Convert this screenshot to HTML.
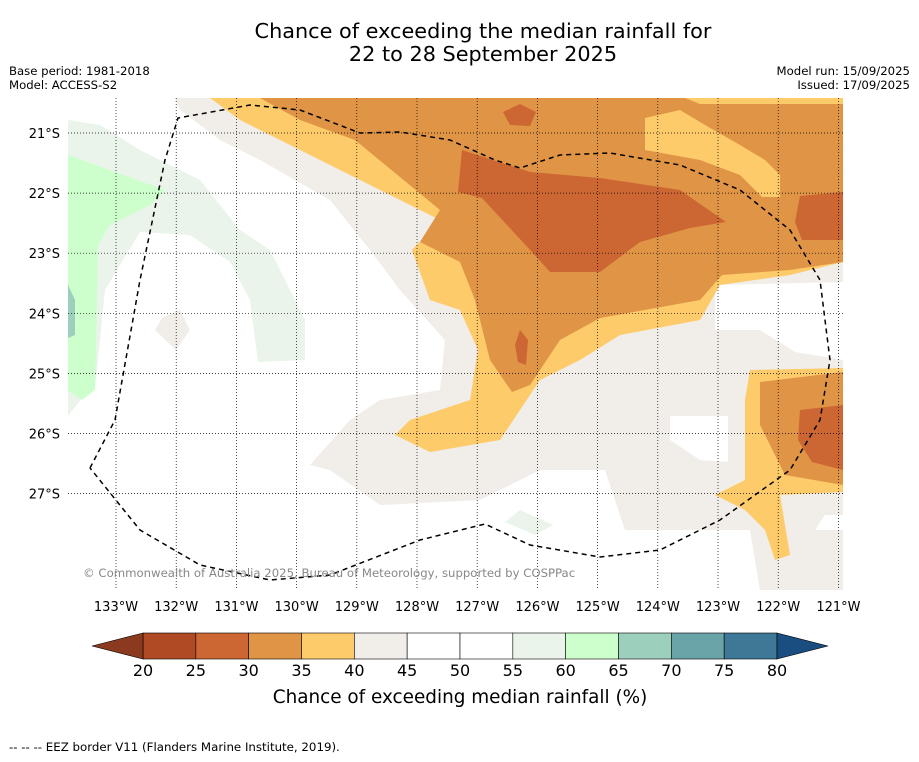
<!DOCTYPE html>
<html><head><meta charset="utf-8"><style>
body{margin:0;background:#fff;font-family:"DejaVu Sans",sans-serif;}
svg text{font-family:"DejaVu Sans",sans-serif;}
</style></head><body>
<svg id="chart" width="919" height="758" xmlns="http://www.w3.org/2000/svg">
<rect width="919" height="758" fill="#fff"/>
<text x="483" y="38" font-size="20.8" text-anchor="middle">Chance of exceeding the median rainfall for</text>
<text x="483" y="61" font-size="20.8" text-anchor="middle">22 to 28 September 2025</text>
<text x="9" y="75" font-size="11.7">Base period: 1981-2018</text>
<text x="9" y="89" font-size="11.7">Model: ACCESS-S2</text>
<text x="910" y="75" font-size="11.7" text-anchor="end">Model run: 15/09/2025</text>
<text x="910" y="89" font-size="11.7" text-anchor="end">Issued: 17/09/2025</text>
<defs><clipPath id="mapclip"><rect x="68" y="98" width="775" height="492"/></clipPath></defs>
<g id="map" clip-path="url(#mapclip)">
<rect x="68" y="98" width="775" height="492" fill="#fff"/>
<polygon fill="#f1ede8" points="175,98 843,98 843,590 760,590 750,530 625,530 605,470 540,470 480,500 380,505 330,470 310,465 350,420 380,400 440,390 445,340 400,290 370,250 330,200 260,160 220,140 180,110"/>
<polygon fill="#fff" points="670,416 728,416 728,462 700,460 670,440"/>
<polygon fill="#fff" points="715,285 843,282 843,360 795,352 760,330 715,330"/>
<polygon fill="#fff" points="815,530 825,515 843,515 843,530"/>
<polygon fill="#fdcb6a" points="210,98 843,98 843,262 790,275 720,285 700,320 620,335 580,360 540,380 520,410 500,440 430,452 395,435 410,420 470,400 478,350 460,310 430,300 412,250 440,220 400,200 300,150 240,120"/>
<polygon fill="#fdcb6a" points="750,370 843,368 843,492 780,495 790,555 775,560 765,530 745,510 715,495 745,480 745,400"/>
<polygon fill="#e09445" points="260,98 843,98 843,262 790,270 722,275 700,300 600,318 560,340 530,385 512,392 490,360 475,300 460,262 420,242 440,210 355,140 300,120"/>
<polygon fill="#fdcb6a" points="685,98 843,98 843,104 700,104"/>
<polygon fill="#fdcb6a" points="645,118 680,110 705,125 740,145 765,160 780,175 780,197 762,197 740,175 700,160 645,150"/>
<polygon fill="#e09445" points="760,382 843,372 843,485 785,475 760,425"/>
<polygon fill="#cc6633" points="462,150 530,172 600,178 680,190 726,222 690,228 640,242 600,272 550,272 532,252 482,198 458,192"/>
<polygon fill="#cc6633" points="800,196 843,192 843,240 802,240 795,222"/>
<polygon fill="#cc6633" points="503,112 520,104 536,112 530,126 510,125"/>
<polygon fill="#cc6633" points="520,330 528,340 526,365 518,362 515,345"/>
<polygon fill="#cc6633" points="800,410 843,405 843,470 812,462 798,440"/>
<polygon fill="#eaf4ea" points="68,120 100,125 140,150 200,180 240,230 270,250 305,320 305,360 258,362 250,300 230,262 190,235 140,232 105,290 96,380 68,416"/>
<polygon fill="#eaf4ea" points="505,522 520,510 553,525 535,535"/>
<polygon fill="#ccffcc" points="68,155 165,190 150,205 110,225 98,245 95,390 82,400 68,390"/>
<polygon fill="#9dd0bc" points="68,285 75,300 75,335 68,338"/>
<polygon fill="#f1ede8" points="162,318 180,310 190,330 176,350 155,330"/>
<g stroke="#000" stroke-width="0.7" stroke-dasharray="1,2" id="grid"></g>
<polyline fill="none" stroke="#000" stroke-width="1.5" stroke-dasharray="5,4" points="90,468 115,420 140,280 165,160 178,118 250,105 300,110 360,133 400,132 450,140 495,160 520,168 560,155 610,153 680,165 740,190 790,230 820,280 830,360 820,420 790,470 720,520 660,550 600,557 530,545 485,524 420,540 330,575 270,580 200,565 140,530 90,468"/>
<text x="83" y="577" font-size="11.7" fill="#888">© Commonwealth of Australia 2025, Bureau of Meteorology, supported by COSPPac</text>
</g>
<g id="ticks"></g>
<g id="cbar"></g>
<text x="460" y="703" font-size="18.4" text-anchor="middle">Chance of exceeding median rainfall (%)</text>
<text x="9" y="751" font-size="11.8">--  --  -- EEZ border V11 (Flanders Marine Institute, 2019).</text>
</svg>
<script>
const lons=[133,132,131,130,129,128,127,126,125,124,123,122,121];
const lats=[21,22,23,24,25,26,27];
const levels=[20,25,30,35,40,45,50,55,60,65,70,75,80];
const colors=["#b04a25","#cc6633","#e09445","#fdcb6a","#f1ede8","#ffffff","#ffffff","#eaf4ea","#ccffcc","#9dd0bc","#6ba4a8","#3d7896"];
const extLow="#8b3a1f", extHigh="#1a4d80";
const NS="http://www.w3.org/2000/svg";
const lx=l=>116+(133-l)*60.2;
const ly=l=>133+(l-21)*60.1;
const grid=document.getElementById('grid'), ticks=document.getElementById('ticks');
function mk(tag,attrs,parent){const e=document.createElementNS(NS,tag);for(const k in attrs)e.setAttribute(k,attrs[k]);parent.appendChild(e);return e;}
lons.forEach(l=>{
 const g=mk('line',{x1:lx(l),x2:lx(l),y1:98,y2:590},grid);
 
 
 const t=mk('text',{x:lx(l),y:611,'font-size':13,'text-anchor':'middle'},ticks);
 t.textContent=l+'°W';
 
 
});
lats.forEach(l=>{
 const g=mk('line',{x1:68,x2:843,y1:ly(l),y2:ly(l)},grid);
 
 
 const t=mk('text',{x:60,y:ly(l)+5,'font-size':13,'text-anchor':'end'},ticks);
 t.textContent=l+'°S';
 
 
});
const cb=document.getElementById('cbar');
const x0=143,x1=777,y0=633,h=26;
const cx=v=>x0+(v-levels[0])/(levels[levels.length-1]-levels[0])*(x1-x0);
for(let i=0;i<colors.length;i++){
 const r=mk('rect',{x:cx(levels[i]),y:y0,width:cx(levels[i+1])-cx(levels[i]),height:h,fill:colors[i],stroke:'#000','stroke-width':0.6},cb);
 
 
}
const tl=mk('polygon',{points:`${x0},${y0} 92,${y0+h/2} ${x0},${y0+h}`,fill:extLow,stroke:'#000','stroke-width':0.6},cb);


const th=mk('polygon',{points:`${x1},${y0} 828,${y0+h/2} ${x1},${y0+h}`,fill:extHigh,stroke:'#000','stroke-width':0.6},cb);


levels.forEach(v=>{
 const t=mk('text',{x:cx(v),y:676,'font-size':16,'text-anchor':'middle'},cb);
 t.textContent=v;
 
 
});
</script>
</body></html>
